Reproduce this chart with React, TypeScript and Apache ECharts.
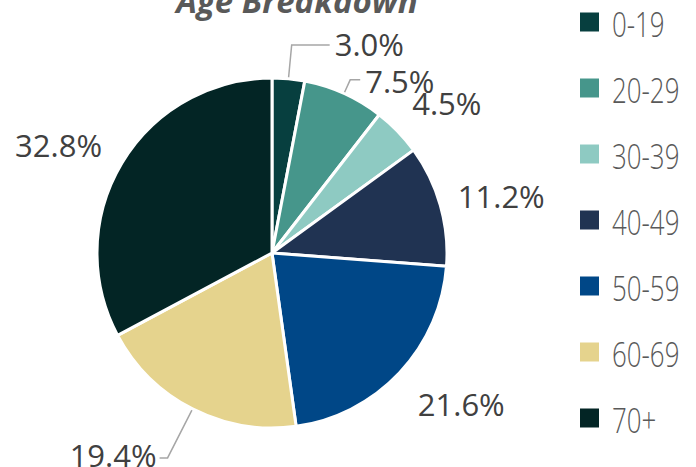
import React, { useEffect, useRef } from "react";
import * as echarts from "echarts";

const categories = ["0-19", "20-29", "30-39", "40-49", "50-59", "60-69", "70+"];
const values = [3.0, 7.5, 4.5, 11.2, 21.6, 19.4, 32.8];
const colors = ["#073f3f", "#46968b", "#8ecac2", "#203352", "#004787", "#e5d38d", "#032525"];
// label line geometry per slice
const lineLen = [34, 15, 30, 15, 25, 55, 15];
const lineLen2 = [38, 10, 0, 0, 0, 8, 0];
const lineShow = [true, true, false, false, false, true, false];
const labelDx = [0, 0, -12, -2, -5, 2, -2];
const labelDy = [-1, 1, -7, -5, 14, -3, -10];

export default function App() {
  const ref = useRef<HTMLDivElement>(null);
  useEffect(() => {
    if (!ref.current) return;
    document.body.style.margin = "0";
    const chart = echarts.init(ref.current, null, { renderer: "svg" });
    const legendItems = categories.map((c, i) => ({
      type: "group",
      x: 580,
      y: 22 + i * 66,
      children: [
        { type: "rect", shape: { x: 0, y: -9.5, width: 19, height: 19 }, style: { fill: colors[i] } },
        {
          type: "text",
          x: 32,
          y: 1,
          scaleX: 0.74,
          style: {
            text: c,
            fontFamily: "Open Sans",
            fontWeight: 300,
            fontSize: 35,
            fill: "#595959",
            align: "left",
            verticalAlign: "middle",
          },
        },
      ],
    }));
    chart.setOption({
      animation: false,
      graphic: [
        {
          type: "text",
          x: 297,
          y: 0,
          style: {
            text: "Age Breakdown",
            fontFamily: "Open Sans",
            fontWeight: "bold",
            fontStyle: "italic",
            fontSize: 33,
            fill: "#595959",
            align: "center",
            verticalAlign: "middle",
          },
        },
        ...legendItems,
      ],
      series: [
        {
          type: "pie",
          center: [272, 253],
          radius: 175,
          startAngle: 90,
          clockwise: true,
          avoidLabelOverlap: false,
          itemStyle: { borderColor: "#ffffff", borderWidth: 3 },
          label: {
            show: true,
            position: "outside",
            formatter: (p: any) => p.value.toFixed(1) + "%",
            fontFamily: "Open Sans",
            fontWeight: 400,
            fontSize: 31,
            color: "#404040",
            distanceToLabelLine: 5,
          },
          labelLine: { lineStyle: { color: "#a6a6a6", width: 1.5 } },
          labelLayout: (p: any) => ({ dx: labelDx[p.dataIndex], dy: labelDy[p.dataIndex] }),
          data: categories.map((c, i) => ({
            name: c,
            value: values[i],
            itemStyle: { color: colors[i] },
            labelLine: { show: lineShow[i], length: lineLen[i], length2: lineLen2[i] },
          })),
        },
      ],
    });
    return () => chart.dispose();
  }, []);
  return <div ref={ref} style={{ width: 696, height: 467 }} />;
}
